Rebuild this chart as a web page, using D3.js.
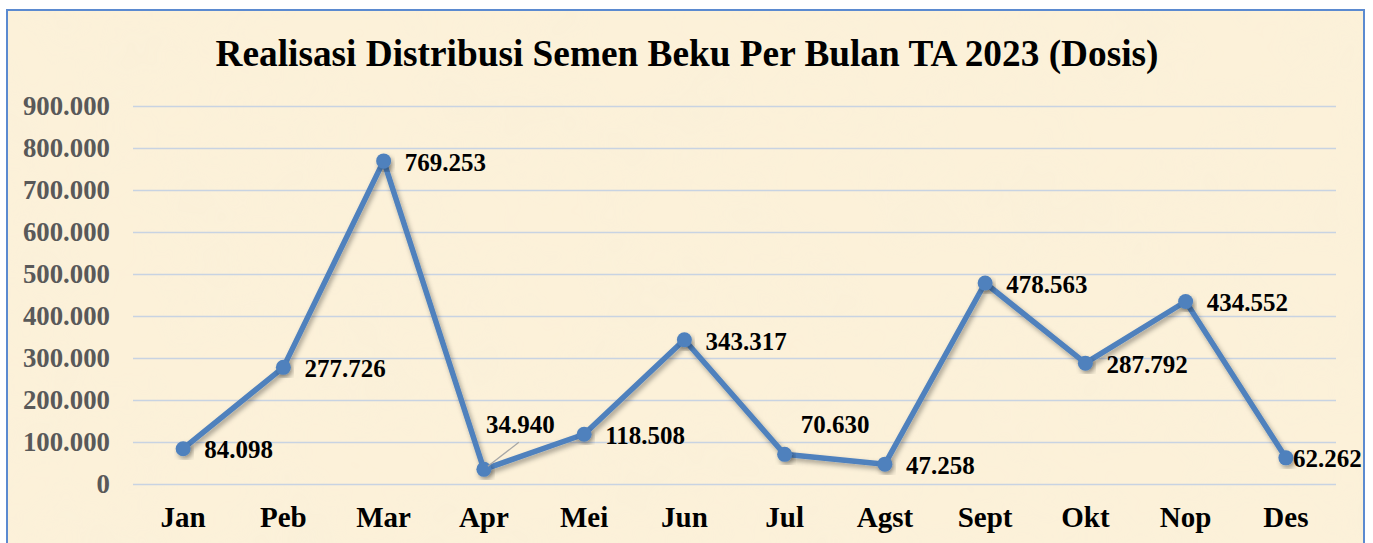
<!DOCTYPE html>
<html>
<head>
<meta charset="utf-8">
<script src="https://cdn.jsdelivr.net/npm/d3@7"></script>
<style>
  body { margin: 0; background: #ffffff; }
  svg { display: block; }
  text { font-family: "Liberation Serif", "Times New Roman", serif; font-weight: bold; }
</style>
</head>
<body>
<div id="chart"></div>
<script>
// data
var months = ["Jan", "Peb", "Mar", "Apr", "Mei", "Jun", "Jul", "Agst", "Sept", "Okt", "Nop", "Des"];
var values = [84098, 277726, 769253, 34940, 118508, 343317, 70630, 47258, 478563, 287792, 434552, 62262];
var yTicks = [0, 100000, 200000, 300000, 400000, 500000, 600000, 700000, 800000, 900000];
var title = "Realisasi Distribusi Semen Beku Per Bulan TA 2023 (Dosis)";

var W = 1373, H = 543;
var margin = {top: 106, right: 37, bottom: 59, left: 133},
  width = W - margin.left - margin.right,
  height = H - margin.top - margin.bottom;

var idFormat = d3.formatLocale({decimal: ",", thousands: ".", grouping: [3], currency: ["", ""]}).format(",d");

var svg = d3.select("#chart")
  .append("svg")
  .attr("width", W)
  .attr("height", H);

var defs = svg.append("defs");

// parchment texture
var tex = defs.append("filter").attr("id", "paper")
  .attr("x", 0).attr("y", 0).attr("width", "100%").attr("height", "100%");
tex.append("feTurbulence").attr("type", "fractalNoise")
  .attr("baseFrequency", "0.012").attr("numOctaves", 3).attr("seed", 7).attr("result", "noise");
tex.append("feColorMatrix").attr("in", "noise").attr("type", "matrix")
  .attr("values", "0 0 0 0 0.93  0 0 0 0 0.86  0 0 0 0 0.70  0 0 0 0.9 -0.3")
  .attr("result", "tint");
tex.append("feComposite").attr("in", "tint").attr("in2", "SourceGraphic").attr("operator", "in");

var shadow = defs.append("filter").attr("id", "shadow")
  .attr("x", "-10%").attr("y", "-10%").attr("width", "130%").attr("height", "130%");
shadow.append("feDropShadow").attr("dx", 2).attr("dy", 3).attr("stdDeviation", 2.5)
  .attr("flood-color", "#000").attr("flood-opacity", 0.35);

// background + frame
svg.append("rect")
  .attr("x", 7).attr("y", 10).attr("width", 1357).attr("height", 560)
  .attr("fill", "#fcf1d9");
svg.append("rect")
  .attr("x", 7).attr("y", 10).attr("width", 1357).attr("height", 560)
  .attr("fill", "#fcf1d9").attr("filter", "url(#paper)").attr("opacity", 0.5);
svg.append("rect")
  .attr("x", 7).attr("y", 10).attr("width", 1357).attr("height", 560)
  .attr("fill", "none").attr("stroke", "#5b8ad0").attr("stroke-width", 2);

// title
svg.append("text")
  .attr("x", 687).attr("y", 66)
  .attr("text-anchor", "middle")
  .style("font-size", "37.3px")
  .style("fill", "#000")
  .text(title);

var g = svg.append("g")
  .attr("transform", "translate(" + margin.left + "," + margin.top + ")");

var x = d3.scaleBand()
  .domain(months)
  .range([0, width]);

var y = d3.scaleLinear()
  .domain([0, 900000])
  .range([height, 0]);

// grid lines + y labels
var yAxis = g.append("g")
  .call(d3.axisLeft(y).tickValues(yTicks).tickSize(-width).tickPadding(23).tickFormat(idFormat));
yAxis.select(".domain").remove();
yAxis.selectAll(".tick line").attr("stroke", "#c8d3e2").attr("stroke-width", 1.5);
yAxis.selectAll(".tick text")
  .style("font-size", "26.8px")
  .style("fill", "#595959")
  .style("font-family", "'Liberation Serif', serif");

// x labels
var xAxis = g.append("g")
  .attr("transform", "translate(0," + height + ")")
  .call(d3.axisBottom(x).tickSize(0).tickPadding(22));
xAxis.select(".domain").remove();
xAxis.selectAll(".tick text")
  .style("font-size", "29px")
  .style("fill", "#000")
  .style("font-family", "'Liberation Serif', serif");

var pts = months.map(function(m, i) {
  return {m: m, v: values[i], x: x(m) + x.bandwidth() / 2, y: y(values[i])};
});

// line
g.append("path")
  .datum(pts)
  .attr("d", d3.line().x(function(d) { return d.x; }).y(function(d) { return d.y; }))
  .attr("fill", "none")
  .attr("stroke", "#4f81bd")
  .attr("stroke-width", 5.5)
  .attr("stroke-linejoin", "round")
  .attr("filter", "url(#shadow)");

g.selectAll("circle.pt")
  .data(pts).enter()
  .append("circle")
  .attr("class", "pt")
  .attr("cx", function(d) { return d.x; })
  .attr("cy", function(d) { return d.y; })
  .attr("r", 7.5)
  .attr("fill", "#4f81bd")
  .attr("filter", "url(#shadow)");

// data labels, most sit right of the point; Apr, Jul and Des are moved like in the picture
function labelOffset(d) {
  if (d.m === "Apr") return [2, -45];
  if (d.m === "Jul") return [16, -30];
  if (d.m === "Des") return [7, 0];
  return [21, 1];
}

// leader line for Apr
var apr = pts[3];
g.append("line")
  .attr("x1", apr.x + 4).attr("y1", apr.y - 3)
  .attr("x2", apr.x + 35).attr("y2", apr.y - 27)
  .attr("stroke", "#a6a6a6").attr("stroke-width", 1.3);

g.selectAll("text.lbl")
  .data(pts).enter()
  .append("text")
  .attr("class", "lbl")
  .attr("x", function(d) { return d.x + labelOffset(d)[0]; })
  .attr("y", function(d) { return d.y + labelOffset(d)[1]; })
  .attr("dy", "0.35em")
  .style("font-size", "25px")
  .style("fill", "#000")
  .text(function(d) { return idFormat(d.v); });
</script>
</body>
</html>
